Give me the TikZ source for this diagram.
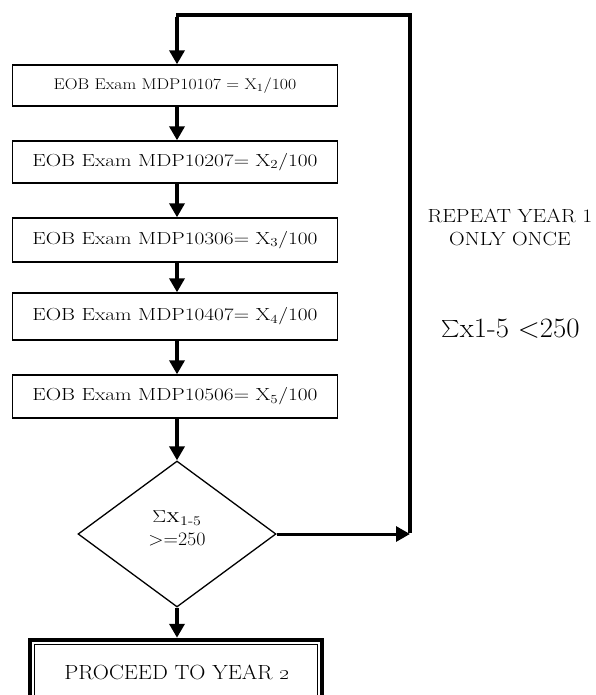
\documentclass[tikz,border=0pt]{standalone}
\usepackage{graphicx}
\usepackage{amsmath}
\usetikzlibrary{arrows.meta,shapes.geometric}
\newcommand{\widetxt}[2][1.0]{\scalebox{#1}[1]{#2}}
\tikzset{
  exambox/.style={draw, line width=1.4pt, minimum width=325pt, inner sep=0pt, font=\fontsize{17.5}{20}\selectfont},
  flow/.style={line width=4pt, -{Triangle[length=14pt,width=15pt]}},
  loopline/.style={line width=3.5pt},
  decision/.style={diamond, draw, line width=1.3pt, minimum width=198pt, minimum height=146pt, inner sep=0pt},
  finbox/.style={draw, line width=4.5pt, minimum width=292pt, minimum height=84pt, inner sep=0pt},
  sidetext/.style={align=center, inner sep=0pt}
}
\begin{document}
\begin{tikzpicture}[x=1pt,y=-1pt]
\useasboundingbox (0,0) rectangle (596,695);
\clip (0,0) rectangle (596,695);
\node[exambox, minimum height=41pt, font=\fontsize{15.5}{18}\selectfont] (b1) at (175,85.5) {\widetxt[1.145]{EOB Exam MDP10107 = X\textsubscript{1}/100}};
\node[exambox, minimum height=42pt] (b2) at (175,162) {\widetxt[1.22]{EOB Exam MDP10207= X\textsubscript{2}/100}};
\node[exambox, minimum height=44pt] (b3) at (175,240) {\widetxt[1.22]{EOB Exam MDP10306= X\textsubscript{3}/100}};
\node[exambox, minimum height=47pt] (b4) at (175,316.5) {\widetxt[1.22]{EOB Exam MDP10407= X\textsubscript{4}/100}};
\node[exambox, minimum height=43pt] (b5) at (175,396.5) {\widetxt[1.22]{EOB Exam MDP10506= X\textsubscript{5}/100}};
\node[decision] (dec) at (177,534) {};
\node[sidetext, font=\fontsize{19}{23}\selectfont] (dect) at (177,528) {\widetxt[1.2]{$\Sigma$\textsc{x}\textsubscript{1-5}}\\\widetxt[1.05]{>=250}};
\node[finbox] (fin) at (176,682) {};
\draw[line width=0.8pt] ([shift={(7,7)}]fin.north west) rectangle ([shift={(-7,-7)}]fin.south east);
\node[font=\fontsize{20.5}{24}\selectfont, inner sep=0pt] (fint) at (177,672) {\widetxt[1.09]{PROCEED TO YEAR \oldstylenums{2}}};
\node[sidetext, font=\fontsize{19}{23}\selectfont] (rep) at (510,227) {\widetxt[1.14]{REPEAT YEAR 1}\\\widetxt[1.14]{ONLY ONCE}};
\node[sidetext, font=\fontsize{28}{32}\selectfont] (sum) at (510.5,329) {\widetxt[1.03]{\raisebox{0.16em}{\scalebox{0.68}{$\sum$}}x1-5 <250}};
\coordinate (rb) at (410,534);
\coordinate (rt) at (410,15);
\coordinate (lt) at (177,15);
\draw[flow] (b1.south -| lt) -- (b2.north -| lt);
\draw[flow] (b2.south -| lt) -- (b3.north -| lt);
\draw[flow] (b3.south -| lt) -- (b4.north -| lt);
\draw[flow] (b4.south -| lt) -- (b5.north -| lt);
\draw[flow] (b5.south -| lt) -- (dec.north);
\draw[flow] (dec.south) -- (dec.south |- fin.north);
\draw[line width=3pt, -{Triangle[length=14pt,width=15pt]}] (dec.east) -- (rb);
\draw[loopline] ([yshift=1.5pt]rb) -- (rt);
\draw[line width=4.5pt] ([xshift=1.75pt]rt) -- ([xshift=-1.5pt]lt);
\draw[flow] ([yshift=-2pt]lt) -- (b1.north -| lt);
\end{tikzpicture}
\end{document}
